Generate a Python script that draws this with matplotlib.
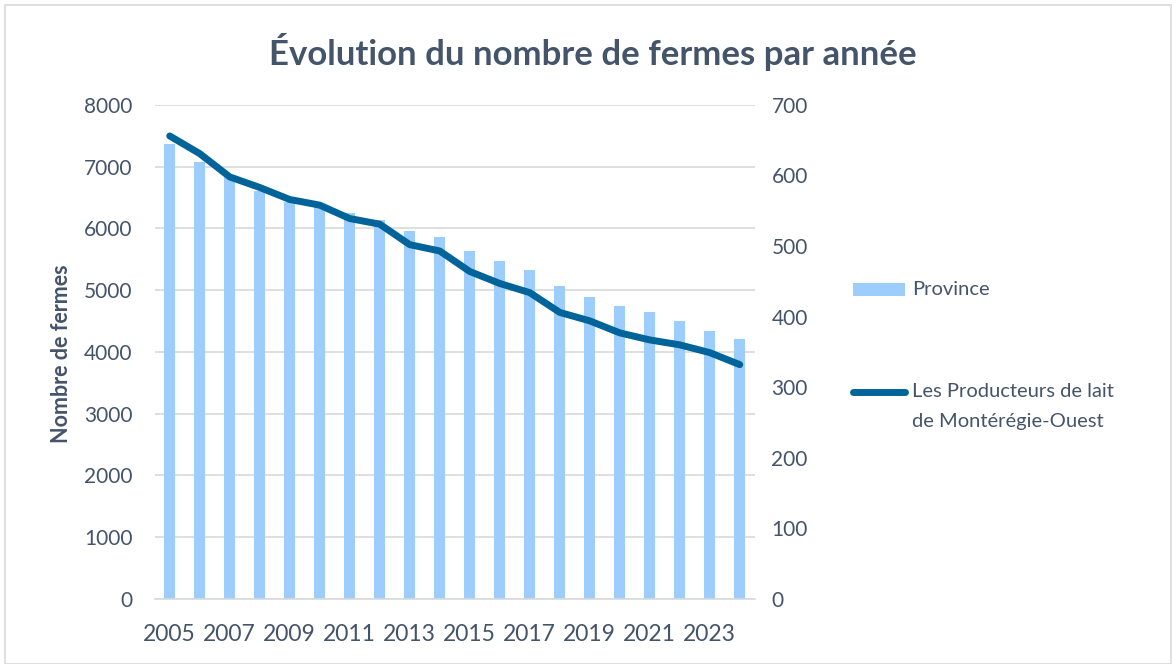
import numpy as np
import matplotlib.pyplot as plt
from matplotlib.patches import Rectangle
from matplotlib.lines import Line2D

years = list(range(2005, 2025))
province = [7370, 7080, 6830, 6610, 6420, 6340, 6250, 6140, 5960, 5860,
            5630, 5480, 5320, 5060, 4890, 4740, 4650, 4500, 4340, 4215]
monteregie = [656, 631, 598, 583, 566, 558, 539, 531, 502, 493,
              464, 447, 434, 406, 394, 377, 367, 360, 349, 332]
xtick_labels = [str(y) if (y - 2005) % 2 == 0 else "" for y in years]
legend_labels = ["Province", "Les Producteurs de lait\nde Montérégie-Ouest"]

text_color = "#44546A"
bar_color = "#9DCDFC"
line_color = "#00649A"
grid_color = "#D9D9D9"

plt.rcParams["font.family"] = ["Lato", "DejaVu Sans"]

fig = plt.figure(figsize=(11.72, 6.64), dpi=100)
ax = fig.add_axes([0.132, 0.098, 0.512, 0.744])
ax2 = ax.twinx()

x = np.arange(len(years))
ax.bar(x, province, width=0.36, color=bar_color, zorder=2)
ax2.plot(x, monteregie, color=line_color, linewidth=5,
         solid_capstyle="round", solid_joinstyle="round", zorder=3)

ax.set_xlim(-0.5, len(years) - 0.5)
ax.set_ylim(0, 8000)
ax2.set_ylim(0, 700)
ax.set_yticks(range(0, 8001, 1000))
ax2.set_yticks(range(0, 701, 100))
ax.set_xticks(x)
ax.set_xticklabels(xtick_labels)

ax.yaxis.grid(True, color=grid_color, linewidth=1.2, zorder=0)
ax.set_axisbelow(True)
for a in (ax, ax2):
    for s in a.spines.values():
        s.set_visible(False)
ax.spines["bottom"].set_visible(True)
ax.spines["bottom"].set_color(grid_color)
ax.spines["bottom"].set_linewidth(1.2)

ax.tick_params(axis="y", length=0, pad=16, labelsize=15, labelcolor=text_color)
ax2.tick_params(axis="y", length=0, pad=12, labelsize=15, labelcolor=text_color)
ax.tick_params(axis="x", length=0, pad=18, labelsize=16.5, labelcolor=text_color)

fig.text(62 / 1172, 1 - 354 / 664, "Nombre de fermes", rotation=90,
         ha="center", va="center", fontsize=15.5, fontweight="bold",
         color=text_color)

fig.text(0.506, 1 - 52 / 664, "Évolution du nombre de fermes par année",
         ha="center", va="center", fontsize=25, fontweight="bold",
         color=text_color)

# legend, drawn by hand to match the spacing of the original
W, H = 1172, 664
fig.patches.append(Rectangle((853 / W, 1 - 296 / H), 52 / W, 13 / H,
                             transform=fig.transFigure, facecolor=bar_color,
                             edgecolor="none"))
fig.lines.append(Line2D([853 / W, 905 / W], [1 - 392 / H, 1 - 392 / H],
                        transform=fig.transFigure, color=line_color,
                        linewidth=5, solid_capstyle="round"))
fig.text(912 / W, 1 - 289 / H, legend_labels[0], ha="left", va="center",
         fontsize=14.5, color=text_color)
fig.text(912 / W, 1 - 383 / H, legend_labels[1], ha="left", va="top",
         fontsize=14.5, color=text_color, linespacing=1.9)

fig.patches.append(Rectangle((0.004, 0.0), 0.995, 0.992, transform=fig.transFigure,
                             fill=False, edgecolor="#D9D9D9", linewidth=1.2))

fig.savefig("out.png", dpi=100)
